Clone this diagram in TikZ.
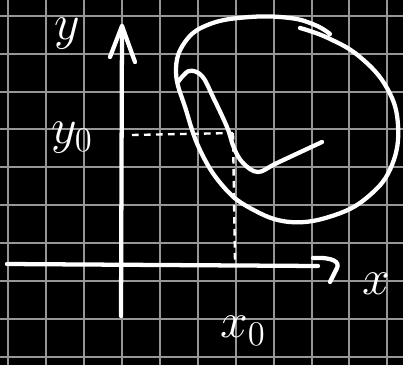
\documentclass[tikz,border=0pt]{standalone}
\usepackage{tikz}
\definecolor{gridgray}{RGB}{150,150,150}

\begin{document}
\begin{tikzpicture}[
    x=0.75pt, y=-0.75pt,
    chalk/.style = {draw=white, line width=3.2pt, line cap=round, line join=round},
    guide/.style = {draw=white, line width=1.8pt, dash pattern=on 5pt off 4pt},
    gridline/.style = {draw=gridgray, line width=1.5pt},
    label/.style = {text=white, inner sep=0pt, font=\huge, scale=1.8}]

    % board
    \fill[black] (0,0) rectangle (403,365);
    \useasboundingbox (0,0) rectangle (403,365);
    \foreach \i in {0,...,10}
        \draw[gridline] ({8.3+37.9*\i},0) -- ++(0,365);
    \foreach \j in {0,...,9}
        \draw[gridline] (0,{15.7+37.9*\j}) -- ++(403,0);

    % axes
    \coordinate (ybot) at (121,316);
    \coordinate (ytop) at (122,26);
    \coordinate (xleft) at (7,264);
    \coordinate (xright) at (318,266);
    \draw[chalk] (ybot) -- (ytop);
    \draw[chalk] (110,57) -- (ytop) -- (135,62);
    \draw[chalk] (xleft) -- (xright);
    \draw[chalk] (313,258) .. controls (333,257) and (340,262) .. (337,268) -- (330,282);

    % labels
    \node[label] (ylab) at (67,34) {$y$};
    \node[label] (y0lab) at (72,138) {$y_0$};
    \node[label] (xlab) at (376,284) {$x$};
    \node[label] (x0lab) at (243,331) {$x_0$};

    % point (x0, y0)
    \coordinate (p) at (233,133);
    \coordinate (py) at (132,135);
    \coordinate (px) at (235,261);
    \draw[guide] (py) -- (p);
    \draw[guide] (p) -- (px);

    % region and curve
    \draw[chalk] plot[smooth, tension=0.7] coordinates {
        (300,28) (328,38) (360,57) (387,88) (398,125) (392,165) (370,195)
        (335,215) (290,222) (250,208) (222,185) (200,150) (186,110) (176,72)
        (185,42) (210,24) (250,17) (290,18) (315,25) (330,34)};
    \draw[chalk] plot[smooth, tension=0.6] coordinates {
        (178,82) (189,71) (202,76) (213,97) (227,127) (234,148) (243,163)
        (258,172) (277,163) (322,142)};
\end{tikzpicture}
\end{document}
